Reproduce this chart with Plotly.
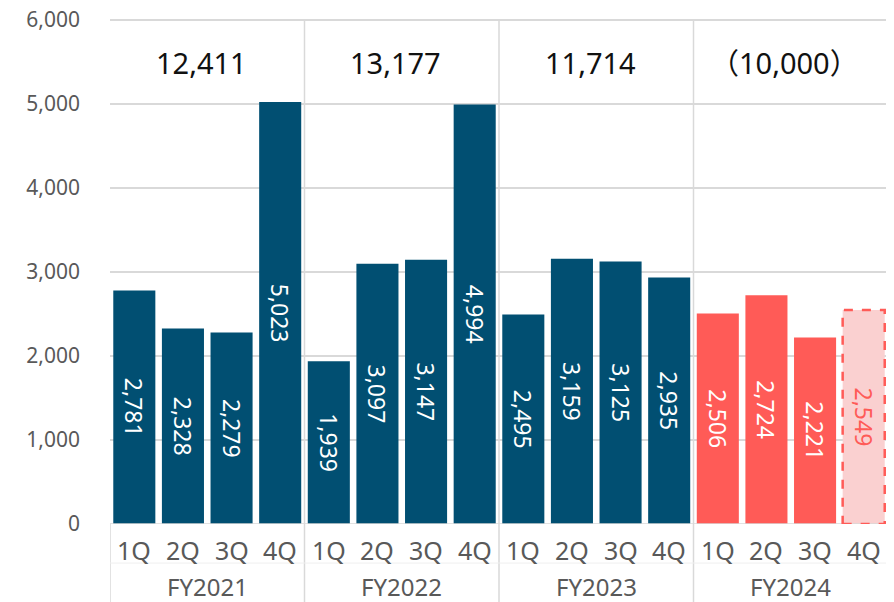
import plotly.graph_objects as go

quarters = ["1Q", "2Q", "3Q", "4Q"]
years = ["FY2021", "FY2022", "FY2023", "FY2024"]
values = [2781, 2328, 2279, 5023,
          1939, 3097, 3147, 4994,
          2495, 3159, 3125, 2935,
          2506, 2724, 2221, 2549]
totals = ["12,411", "13,177", "11,714", "（10,000）"]
forecast_flags = [False] * 15 + [True]
y_ticks = [0, 1000, 2000, 3000, 4000, 5000, 6000]

NAVY = "#014F72"
RED = "#FF5B57"
PINK = "#FAD0D0"
GRID = "#D9D9D9"
FONT = "Noto Sans, Noto Sans CJK JP, sans-serif"

n = len(values)
xs = list(range(n))
colors = []
text_colors = []
for i in range(n):
    yr = i // 4
    if forecast_flags[i]:
        colors.append(PINK)
        text_colors.append(RED)
    elif yr == 3:
        colors.append(RED)
        text_colors.append("white")
    else:
        colors.append(NAVY)
        text_colors.append("white")

bar_width = 0.865
y_top = 6036  # small headroom so the 6,000 gridline/label are not clipped

fig = go.Figure()
fig.add_trace(go.Bar(
    x=xs, y=values, width=bar_width,
    marker=dict(color=colors, line=dict(width=0)),
    text=[f"{v:,}" for v in values],
    textposition="inside", insidetextanchor="middle", textangle=90,
    textfont=dict(color=text_colors, size=23, family=FONT),
    constraintext="none",
    hoverinfo="skip",
))

shapes = []
for k in range(1, 4):
    xd = 4 * k - 0.5
    shapes.append(dict(type="line", xref="x", yref="paper", x0=xd, x1=xd, y0=-0.2, y1=max(y_ticks) / y_top,
                       line=dict(color=GRID, width=1.5), layer="below"))
shapes.append(dict(type="line", xref="x", yref="paper", x0=n - 0.5, x1=n - 0.5, y0=-0.2, y1=max(y_ticks) / y_top,
                   line=dict(color=GRID, width=1.5), layer="below"))
shapes.append(dict(type="line", xref="x", yref="paper", x0=-0.5, x1=-0.5, y0=-0.2, y1=0,
                   line=dict(color=GRID, width=1.5)))
shapes.append(dict(type="line", xref="x", yref="paper", x0=-0.5, x1=n - 0.5, y0=-0.077, y1=-0.077,
                   line=dict(color="#EFEFEF", width=1)))
shapes.append(dict(type="line", xref="x", yref="y", x0=-0.5, x1=n - 0.5, y0=0, y1=0,
                   line=dict(color=GRID, width=1.5)))
for i in range(n):
    if forecast_flags[i]:
        shapes.append(dict(type="rect", xref="x", yref="y",
                           x0=i - bar_width / 2, x1=i + bar_width / 2, y0=0, y1=values[i],
                           line=dict(color=RED, width=2.5, dash="dash"), layer="above"))

annotations = []
for i in range(n):
    annotations.append(dict(x=i, y=-0.052, xref="x", yref="paper", text=quarters[i % 4],
                            showarrow=False, font=dict(size=25, color="#595959", family=FONT),
                            yanchor="middle"))
for k, yname in enumerate(years):
    annotations.append(dict(x=4 * k + 1.5, y=-0.123, xref="x", yref="paper", text=yname,
                            showarrow=False, font=dict(size=24, color="#595959", family=FONT),
                            yanchor="middle"))
    annotations.append(dict(x=4 * k + 1.5, y=5500, xref="x", yref="y", text=totals[k],
                            showarrow=False, font=dict(size=29, color="#111111", family=FONT),
                            yanchor="middle", xshift=-6))

fig.update_layout(
    width=886, height=594,
    margin=dict(l=102, r=6, t=9, b=78, autoexpand=False),
    plot_bgcolor="white", paper_bgcolor="white",
    showlegend=False,
    bargap=0.13,
    shapes=shapes, annotations=annotations,
    font=dict(family=FONT),
)
fig.update_xaxes(range=[-0.5, n - 0.5], showticklabels=False, showgrid=False,
                 zeroline=False, showline=False, ticks="", automargin=False)
fig.update_yaxes(range=[0, y_top], tickvals=y_ticks, tickformat=",",
                 showgrid=True, gridcolor=GRID, gridwidth=1.5, zeroline=False,
                 tickfont=dict(size=21, color="#595959", family=FONT),
                 ticklabelstandoff=29, ticklabeloverflow="allow", showline=False,
                 automargin=False)

fig.write_html("out.html")
